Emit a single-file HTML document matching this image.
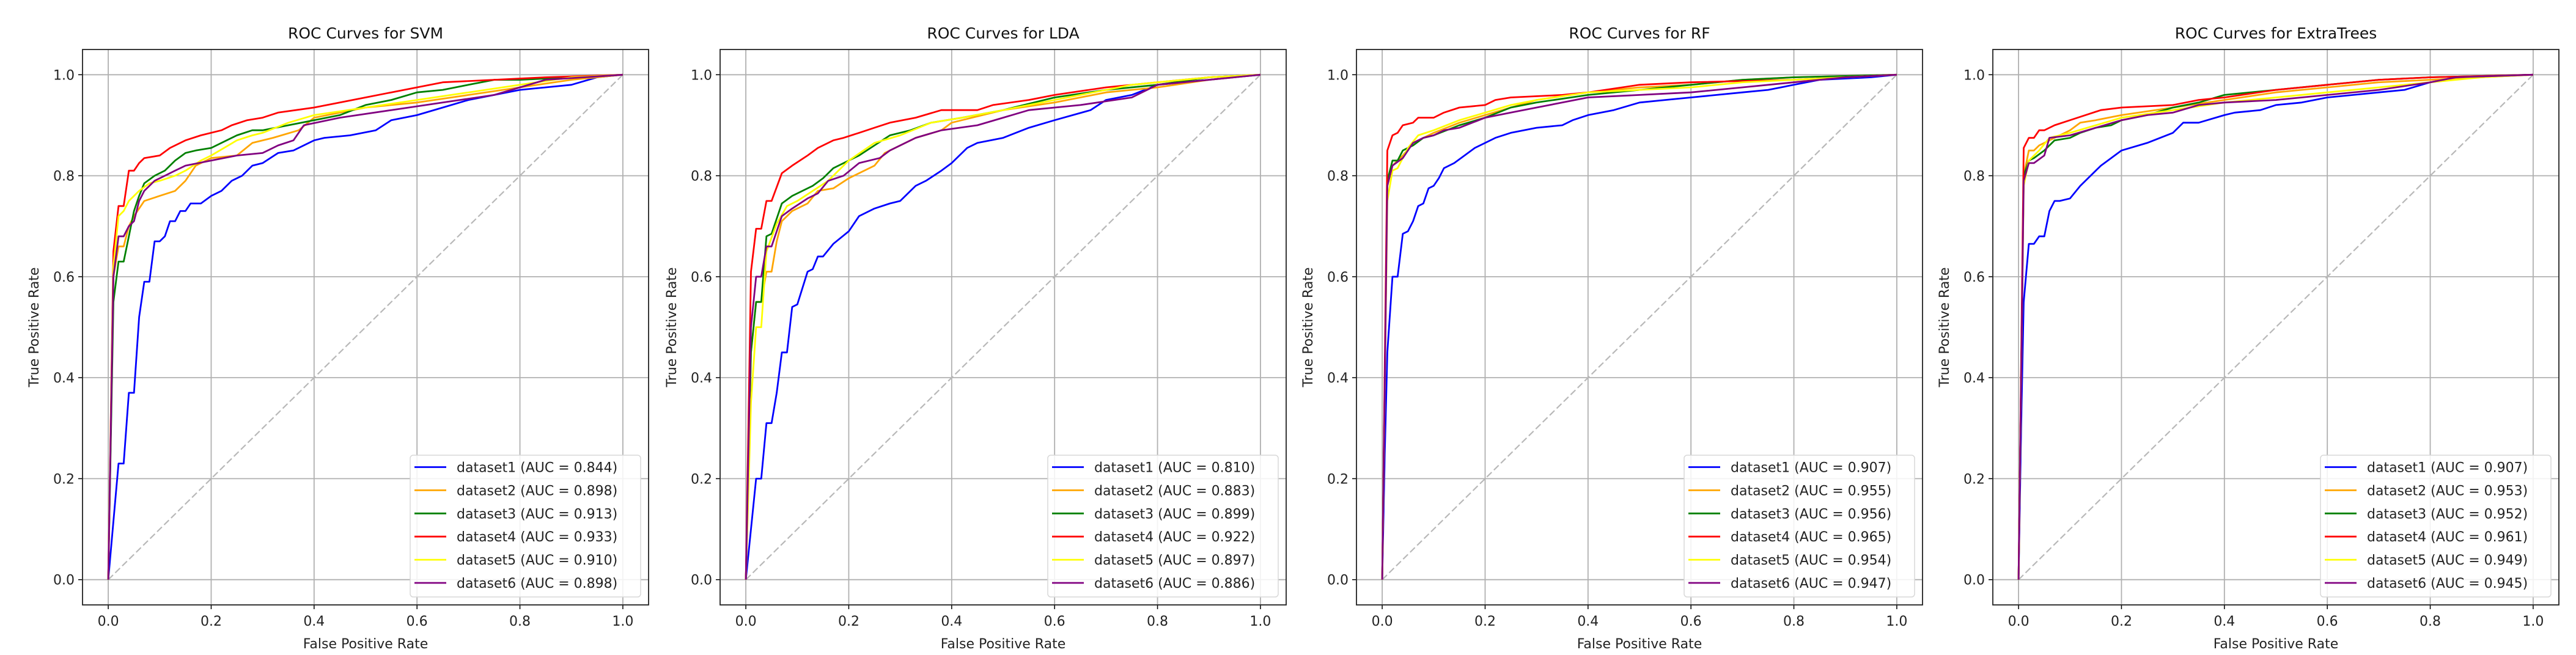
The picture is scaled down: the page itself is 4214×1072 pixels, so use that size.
<!DOCTYPE html>
<html><head><meta charset="utf-8">
<style>
html,body{margin:0;padding:0;background:#fff;}
svg{display:block;font-family:"DejaVu Sans","Liberation Sans",sans-serif;}
</style></head>
<body>
<svg id="fig" width="4214" height="1072" viewBox="0 0 4214 1072" xmlns="http://www.w3.org/2000/svg"></svg>
<script>
const panelTitles = ["ROC Curves for SVM","ROC Curves for LDA","ROC Curves for RF","ROC Curves for ExtraTrees"];
const seriesNames = ["dataset1","dataset2","dataset3","dataset4","dataset5","dataset6"];
const seriesColors = ["#0000ff","#ffa500","#008000","#ff0000","#ffff00","#800080"];
const tickLabels = ["0.0","0.2","0.4","0.6","0.8","1.0"];
const tickValues = [0,0.2,0.4,0.6,0.8,1.0];

const aucSVM = [0.844,0.898,0.913,0.933,0.910,0.898];
const aucLDA = [0.810,0.883,0.899,0.922,0.897,0.886];
const aucRF  = [0.907,0.955,0.956,0.965,0.954,0.947];
const aucET  = [0.907,0.953,0.952,0.961,0.949,0.945];

const svm1=[[0,0],[0.02,0.23],[0.03,0.23],[0.04,0.37],[0.05,0.37],[0.06,0.52],[0.07,0.59],[0.08,0.59],[0.09,0.67],[0.10,0.67],[0.11,0.68],[0.12,0.71],[0.13,0.71],[0.14,0.73],[0.15,0.73],[0.16,0.745],[0.18,0.745],[0.2,0.76],[0.22,0.77],[0.24,0.79],[0.26,0.80],[0.28,0.82],[0.3,0.825],[0.33,0.845],[0.36,0.85],[0.4,0.87],[0.42,0.875],[0.47,0.88],[0.52,0.89],[0.55,0.91],[0.6,0.92],[0.65,0.935],[0.7,0.95],[0.75,0.96],[0.8,0.97],[0.85,0.975],[0.9,0.98],[0.95,0.995],[1,1]];
const svm2=[[0,0],[0.01,0.6],[0.02,0.66],[0.03,0.66],[0.04,0.70],[0.05,0.72],[0.07,0.75],[0.1,0.76],[0.13,0.77],[0.15,0.79],[0.17,0.82],[0.2,0.835],[0.25,0.84],[0.28,0.865],[0.32,0.875],[0.37,0.89],[0.4,0.915],[0.5,0.935],[0.6,0.945],[0.7,0.96],[0.8,0.975],[0.9,0.99],[1,1]];
const svm3=[[0,0],[0.01,0.55],[0.02,0.63],[0.03,0.63],[0.04,0.68],[0.05,0.73],[0.06,0.76],[0.07,0.785],[0.09,0.8],[0.11,0.81],[0.13,0.83],[0.15,0.845],[0.17,0.85],[0.2,0.855],[0.25,0.88],[0.28,0.89],[0.3,0.89],[0.35,0.9],[0.4,0.91],[0.45,0.92],[0.5,0.94],[0.55,0.95],[0.6,0.965],[0.65,0.97],[0.7,0.98],[0.75,0.99],[0.8,0.99],[0.9,0.995],[1,1]];
const svm4=[[0,0],[0.01,0.65],[0.02,0.74],[0.03,0.74],[0.04,0.81],[0.05,0.81],[0.06,0.825],[0.07,0.835],[0.1,0.84],[0.12,0.855],[0.15,0.87],[0.18,0.88],[0.22,0.89],[0.24,0.9],[0.27,0.91],[0.3,0.915],[0.33,0.925],[0.4,0.935],[0.45,0.945],[0.5,0.955],[0.55,0.965],[0.6,0.975],[0.65,0.985],[0.75,0.99],[0.85,0.995],[1,1]];
const svm5=[[0,0],[0.01,0.62],[0.02,0.72],[0.03,0.73],[0.04,0.75],[0.06,0.77],[0.08,0.785],[0.1,0.79],[0.13,0.8],[0.15,0.81],[0.18,0.83],[0.2,0.84],[0.25,0.87],[0.28,0.88],[0.3,0.885],[0.35,0.905],[0.4,0.92],[0.5,0.935],[0.6,0.95],[0.7,0.965],[0.8,0.98],[0.9,0.995],[1,1]];
const svm6=[[0,0],[0.01,0.6],[0.02,0.68],[0.03,0.68],[0.04,0.70],[0.05,0.71],[0.06,0.75],[0.07,0.77],[0.09,0.79],[0.11,0.80],[0.13,0.81],[0.15,0.82],[0.2,0.83],[0.25,0.84],[0.3,0.845],[0.33,0.86],[0.36,0.87],[0.38,0.9],[0.45,0.915],[0.55,0.93],[0.65,0.945],[0.75,0.96],[0.8,0.975],[0.85,0.99],[1,1]];

const lda1=[[0,0],[0.02,0.2],[0.03,0.2],[0.04,0.31],[0.05,0.31],[0.06,0.37],[0.07,0.45],[0.08,0.45],[0.09,0.54],[0.1,0.545],[0.12,0.61],[0.13,0.615],[0.14,0.64],[0.15,0.64],[0.17,0.665],[0.2,0.69],[0.22,0.72],[0.25,0.735],[0.28,0.745],[0.3,0.75],[0.33,0.78],[0.35,0.79],[0.38,0.81],[0.4,0.825],[0.43,0.855],[0.45,0.865],[0.5,0.875],[0.55,0.895],[0.6,0.91],[0.67,0.93],[0.7,0.95],[0.75,0.96],[0.8,0.98],[0.9,0.99],[1,1]];
const lda2=[[0,0],[0.01,0.45],[0.02,0.55],[0.03,0.55],[0.04,0.61],[0.05,0.61],[0.06,0.67],[0.07,0.71],[0.09,0.73],[0.12,0.745],[0.14,0.77],[0.17,0.775],[0.2,0.795],[0.25,0.82],[0.27,0.845],[0.3,0.86],[0.33,0.875],[0.38,0.89],[0.4,0.905],[0.5,0.93],[0.6,0.945],[0.7,0.965],[0.8,0.975],[0.9,0.99],[1,1]];
const lda3=[[0,0],[0.01,0.45],[0.02,0.55],[0.03,0.55],[0.04,0.68],[0.05,0.685],[0.07,0.745],[0.09,0.76],[0.11,0.77],[0.13,0.78],[0.15,0.795],[0.17,0.815],[0.2,0.83],[0.22,0.84],[0.25,0.86],[0.28,0.88],[0.32,0.89],[0.36,0.905],[0.42,0.915],[0.5,0.93],[0.6,0.955],[0.7,0.97],[0.8,0.98],[0.9,0.995],[1,1]];
const lda4=[[0,0],[0.01,0.61],[0.02,0.695],[0.03,0.695],[0.04,0.75],[0.05,0.75],[0.07,0.805],[0.09,0.82],[0.12,0.84],[0.14,0.855],[0.17,0.87],[0.19,0.875],[0.22,0.885],[0.25,0.895],[0.28,0.905],[0.33,0.915],[0.38,0.93],[0.45,0.93],[0.48,0.94],[0.55,0.95],[0.6,0.96],[0.7,0.975],[0.8,0.985],[0.9,0.995],[1,1]];
const lda5=[[0,0],[0.01,0.35],[0.02,0.5],[0.03,0.5],[0.04,0.65],[0.06,0.705],[0.08,0.74],[0.1,0.75],[0.13,0.77],[0.16,0.79],[0.18,0.81],[0.2,0.83],[0.25,0.865],[0.3,0.88],[0.36,0.905],[0.42,0.915],[0.5,0.93],[0.6,0.95],[0.7,0.97],[0.75,0.98],[0.8,0.985],[0.9,0.995],[1,1]];
const lda6=[[0,0],[0.01,0.5],[0.02,0.6],[0.03,0.6],[0.04,0.66],[0.05,0.66],[0.07,0.72],[0.09,0.735],[0.12,0.755],[0.14,0.765],[0.16,0.79],[0.19,0.8],[0.22,0.825],[0.26,0.835],[0.28,0.85],[0.33,0.875],[0.38,0.89],[0.45,0.9],[0.5,0.915],[0.55,0.93],[0.65,0.94],[0.75,0.955],[0.8,0.98],[0.9,0.99],[1,1]];

const rf1=[[0,0],[0.005,0.25],[0.01,0.45],[0.02,0.6],[0.03,0.6],[0.04,0.685],[0.05,0.69],[0.06,0.71],[0.07,0.74],[0.08,0.745],[0.09,0.775],[0.1,0.78],[0.11,0.795],[0.12,0.815],[0.14,0.825],[0.16,0.84],[0.18,0.855],[0.2,0.865],[0.22,0.875],[0.25,0.885],[0.3,0.895],[0.35,0.9],[0.37,0.91],[0.4,0.92],[0.45,0.93],[0.5,0.945],[0.55,0.95],[0.6,0.955],[0.7,0.965],[0.75,0.97],[0.8,0.98],[0.85,0.99],[0.95,0.995],[1,1]];
const rf2=[[0,0],[0.01,0.78],[0.02,0.82],[0.04,0.84],[0.06,0.865],[0.08,0.875],[0.1,0.885],[0.15,0.905],[0.2,0.92],[0.25,0.935],[0.3,0.95],[0.4,0.965],[0.5,0.975],[0.6,0.98],[0.7,0.99],[0.8,0.995],[1,1]];
const rf3=[[0,0],[0.01,0.79],[0.02,0.83],[0.03,0.83],[0.04,0.85],[0.06,0.86],[0.08,0.875],[0.1,0.88],[0.15,0.9],[0.2,0.915],[0.25,0.935],[0.3,0.945],[0.4,0.96],[0.5,0.97],[0.6,0.98],[0.7,0.99],[0.8,0.995],[1,1]];
const rf4=[[0,0],[0.01,0.85],[0.02,0.88],[0.03,0.885],[0.04,0.9],[0.06,0.905],[0.07,0.915],[0.1,0.915],[0.12,0.925],[0.15,0.935],[0.2,0.94],[0.22,0.95],[0.25,0.955],[0.35,0.96],[0.4,0.965],[0.5,0.98],[0.6,0.985],[0.8,0.99],[0.9,0.995],[1,1]];
const rf5=[[0,0],[0.01,0.75],[0.02,0.81],[0.03,0.815],[0.05,0.855],[0.07,0.88],[0.1,0.89],[0.15,0.91],[0.2,0.925],[0.25,0.94],[0.3,0.95],[0.4,0.965],[0.5,0.97],[0.6,0.975],[0.7,0.985],[0.8,0.99],[1,1]];
const rf6=[[0,0],[0.01,0.78],[0.02,0.82],[0.04,0.835],[0.06,0.865],[0.08,0.875],[0.1,0.88],[0.12,0.89],[0.15,0.895],[0.2,0.915],[0.25,0.925],[0.3,0.935],[0.35,0.945],[0.4,0.955],[0.5,0.96],[0.6,0.965],[0.7,0.975],[0.8,0.985],[0.9,0.995],[1,1]];

const et1=[[0,0],[0.005,0.3],[0.01,0.55],[0.02,0.665],[0.03,0.665],[0.04,0.68],[0.05,0.68],[0.06,0.73],[0.07,0.75],[0.08,0.75],[0.1,0.755],[0.12,0.78],[0.14,0.8],[0.16,0.82],[0.18,0.835],[0.2,0.85],[0.25,0.865],[0.3,0.885],[0.32,0.905],[0.35,0.905],[0.4,0.92],[0.42,0.925],[0.47,0.93],[0.5,0.94],[0.55,0.945],[0.6,0.955],[0.65,0.96],[0.7,0.965],[0.75,0.97],[0.8,0.985],[0.85,0.995],[1,1]];
const et2=[[0,0],[0.01,0.8],[0.02,0.85],[0.03,0.85],[0.04,0.86],[0.06,0.87],[0.08,0.88],[0.1,0.89],[0.12,0.905],[0.15,0.91],[0.2,0.92],[0.3,0.935],[0.4,0.95],[0.5,0.965],[0.6,0.975],[0.7,0.985],[0.8,0.99],[1,1]];
const et3=[[0,0],[0.01,0.8],[0.02,0.83],[0.03,0.835],[0.05,0.85],[0.07,0.87],[0.1,0.875],[0.12,0.885],[0.15,0.895],[0.18,0.9],[0.2,0.91],[0.25,0.92],[0.3,0.935],[0.35,0.945],[0.4,0.96],[0.5,0.97],[0.6,0.98],[0.7,0.99],[0.8,0.995],[1,1]];
const et4=[[0,0],[0.01,0.855],[0.02,0.875],[0.03,0.875],[0.04,0.89],[0.05,0.89],[0.07,0.9],[0.1,0.91],[0.13,0.92],[0.16,0.93],[0.2,0.935],[0.3,0.94],[0.35,0.95],[0.4,0.955],[0.5,0.97],[0.6,0.98],[0.7,0.99],[0.8,0.995],[1,1]];
const et5=[[0,0],[0.01,0.78],[0.02,0.83],[0.04,0.85],[0.06,0.875],[0.1,0.885],[0.15,0.9],[0.2,0.915],[0.3,0.93],[0.4,0.945],[0.5,0.955],[0.6,0.965],[0.7,0.975],[0.8,0.985],[0.9,0.995],[1,1]];
const et6=[[0,0],[0.01,0.79],[0.02,0.825],[0.03,0.825],[0.05,0.84],[0.06,0.875],[0.1,0.88],[0.15,0.895],[0.2,0.91],[0.25,0.92],[0.3,0.925],[0.35,0.94],[0.4,0.945],[0.5,0.95],[0.6,0.96],[0.7,0.97],[0.8,0.985],[0.85,0.995],[1,1]];

const panelSeries = [[svm1,svm2,svm3,svm4,svm5,svm6],[lda1,lda2,lda3,lda4,lda5,lda6],[rf1,rf2,rf3,rf4,rf5,rf6],[et1,et2,et3,et4,et5,et6]];
const panelAucs = [aucSVM,aucLDA,aucRF,aucET];
const frameLefts = [135,1178,2219,3260];

const NS="http://www.w3.org/2000/svg";
const fig=document.getElementById('fig');
function mk(tag,attrs,parent){const e=document.createElementNS(NS,tag);for(const k in attrs)e.setAttribute(k,attrs[k]);parent.appendChild(e);return e;}

const FW=926, FT=81, FB=990;
panelTitles.forEach((title,p)=>{
  const L=frameLefts[p], R=L+FW;
  const sx=v=>L+(v+0.05)/1.1*FW;
  const sy=v=>FB-(v+0.05)/1.1*(FB-FT);
  const g=mk('g',{},fig);
  
  
  tickValues.forEach((v,i)=>{
    const gx=mk('line',{x1:sx(v),x2:sx(v),y1:FT,y2:FB,stroke:'#b0b0b0','stroke-width':1.8},g);
    
    
    const gy=mk('line',{x1:L,x2:R,y1:sy(v),y2:sy(v),stroke:'#b0b0b0','stroke-width':1.8},g);
    
    
    mk('line',{x1:sx(v),x2:sx(v),y1:FB,y2:FB+7,stroke:'#000','stroke-width':1.5},g);
    mk('line',{x1:L-7,x2:L,y1:sy(v),y2:sy(v),stroke:'#000','stroke-width':1.5},g);
    const xt=mk('text',{x:sx(v),y:FB+34,'text-anchor':'middle','font-size':22,fill:'#222'},g);
    xt.textContent=tickLabels[i];
    
    
    const yt=mk('text',{x:L-13,y:sy(v)+8,'text-anchor':'end','font-size':22,fill:'#222'},g);
    yt.textContent=tickLabels[i];
    
    
  });
  const d=mk('line',{x1:sx(0),y1:sy(0),x2:sx(1),y2:sy(1),stroke:'#b8b8b8','stroke-width':2.2,'stroke-dasharray':'11,5'},g);
  
  
  panelSeries[p].forEach((pts,s)=>{
    const path=mk('polyline',{points:pts.map(q=>sx(q[0]).toFixed(1)+','+sy(q[1]).toFixed(1)).join(' '),fill:'none',stroke:seriesColors[s],'stroke-width':2.8,'stroke-linejoin':'round'},g);
    
    
  });
  const fr=mk('rect',{x:L,y:FT,width:FW,height:FB-FT,fill:'none',stroke:'#222','stroke-width':1.8},g);
  
  
  const t=mk('text',{x:L+FW/2,y:63,'text-anchor':'middle','font-size':25,fill:'#111'},g);
  t.textContent=title;
  
  
  const xl=mk('text',{x:L+FW/2,y:1061,'text-anchor':'middle','font-size':22,fill:'#222'},g);
  xl.textContent='False Positive Rate';
  
  
  const yl=mk('text',{x:0,y:0,'text-anchor':'middle','font-size':22,fill:'#222',transform:'translate('+(L-72)+','+((FT+FB)/2)+') rotate(-90)'},g);
  yl.textContent='True Positive Rate';
  
  
  const lg=mk('g',{},g);
  
  
  const lx=R-390, ly=745;
  mk('rect',{x:lx,y:ly,width:377,height:232,rx:5,fill:'#fff','fill-opacity':0.85,stroke:'#d8d8d8','stroke-width':1.5},lg);
  seriesNames.forEach((n,s)=>{
    const cy=ly+19.5+s*37.9;
    const e=mk('g',{},lg);
    
    
    mk('line',{x1:lx+7,x2:lx+59,y1:cy,y2:cy,stroke:seriesColors[s],'stroke-width':2.8},e);
    const tx=mk('text',{x:lx+76,y:cy+8,'font-size':22,fill:'#222'},e);
    tx.textContent=n+' (AUC = '+panelAucs[p][s].toFixed(3)+')';
  });
});
</script>
</body></html>
